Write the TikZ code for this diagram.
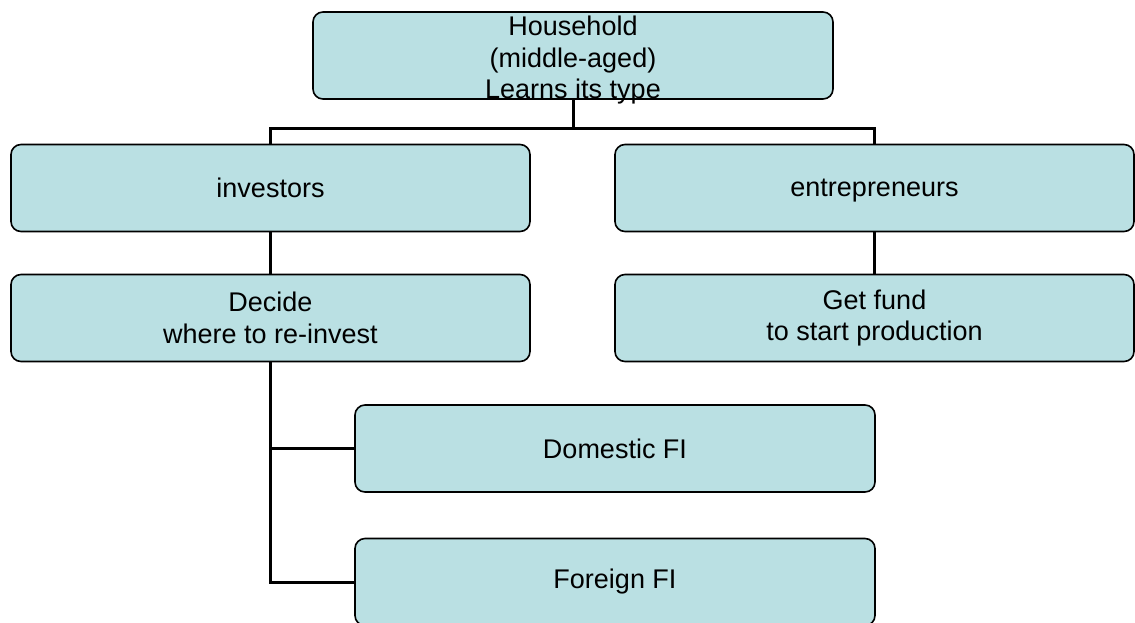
\documentclass[tikz,border=0pt]{standalone}
\usepackage{fontspec}
\setmainfont{Liberation Sans}
\definecolor{boxfill}{RGB}{186,224,227}
\begin{document}
\begin{tikzpicture}[x=1pt,y=-1pt,
  box/.style={draw=black, line width=1.6pt, fill=boxfill, rounded corners=10pt,
    minimum width=#1, minimum height=87pt, inner sep=0pt, align=center,
    font=\fontsize{27}{31.5}\selectfont},
  box/.default=519pt,
  lbl/.style={align=center, inner sep=0pt, font=\fontsize{27}{31.5}\selectfont},
  conn/.style={line width=3pt}]
\useasboundingbox (0,0) rectangle (1135,622);
\node[box=520pt] (hh) at (573,55.5) {};
\node[lbl] (hhtext) at (573,60.5) {Household\\(middle-aged)\\Learns its type};
\node[box] (inv) at (270.5,188) {investors};
\node[box, text depth=0pt] (ent) at (874.5,188) {entrepreneurs};
\node[box] (dec) at (270.5,318) {Decide\\where to re-invest};
\node[box] (fund) at (874.5,318) {Get fund\\to start production};
\node[box=520pt] (dom) at (615,448.5) {Domestic FI};
\node[box=520pt] (forfi) at (615,582) {Foreign FI};
\coordinate (bus) at (573,128);
\draw[conn] (hh.south) -- (bus);
\draw[conn] (inv.north) |- (bus) -| (ent.north);
\draw[conn] (inv.south) -- (dec.north);
\draw[conn] (ent.south) -- (fund.north);
\draw[conn] (dec.south) |- (forfi.west);
\draw[conn] (dec.south |- dom.west) -- (dom.west);
\end{tikzpicture}
\end{document}
